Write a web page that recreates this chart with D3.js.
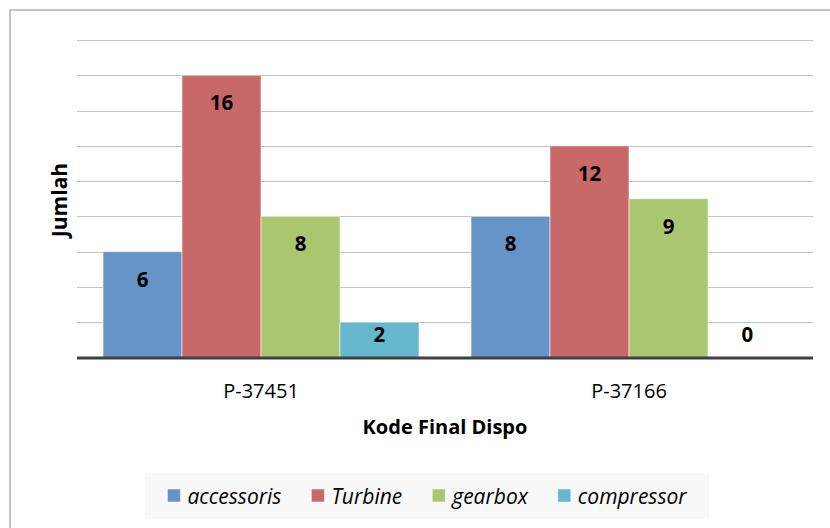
<!DOCTYPE html>
<html>
<head>
<meta charset="utf-8">
<script src="https://cdn.jsdelivr.net/npm/d3@7"></script>
<style>
  html, body { margin: 0; padding: 0; background: #fff; }
  svg { display: block; }
  text { font-family: "Open Sans", "Noto Sans", sans-serif; }
</style>
</head>
<body>
<svg id="chart" width="830" height="528"></svg>
<script>
// Jumlah per kode final dispo, per komponen
const categories = ["P-37451", "P-37166"];
const seriesNames = ["accessoris", "Turbine", "gearbox", "compressor"];
const accessoris = [6, 8];
const turbine = [16, 12];
const gearbox = [8, 9];
const compressor = [2, 0];
const seriesValues = [accessoris, turbine, gearbox, compressor];
const seriesColors = ["#6794C8", "#C96868", "#AAC66F", "#64B7CD"];
const yTicks = [2, 4, 6, 8, 10, 12, 14, 16, 18];

const svg = d3.select("#chart");

// outer chart frame (right and bottom edges run past the page)
svg.append("rect")
  .attr("x", 10).attr("y", 10)
  .attr("width", 900).attr("height", 600)
  .attr("fill", "#fff")
  .attr("stroke", "#C4C4C4").attr("stroke-width", 2);

const plot = { left: 77, right: 813, top: 40, bottom: 357.5 };

const y = d3.scaleLinear().domain([0, 18]).range([plot.bottom, plot.top]);
const x0 = d3.scaleBand().domain(categories).range([plot.left, plot.right]).padding(0);
const gap = x0.bandwidth() * 0.0707;
const x1 = d3.scaleBand().domain(seriesNames).range([gap, x0.bandwidth() - gap]).padding(0);

// horizontal gridlines
svg.append("g").selectAll("line")
  .data(yTicks)
  .join("line")
  .attr("x1", plot.left).attr("x2", plot.right)
  .attr("y1", d => Math.round(y(d)) + 0.5).attr("y2", d => Math.round(y(d)) + 0.5)
  .attr("stroke", "#C2C2C2").attr("stroke-width", 1);

// bars
const rows = [];
categories.forEach((c, ci) => {
  seriesNames.forEach((s, si) => {
    rows.push({ cat: c, series: s, value: seriesValues[si][ci], color: seriesColors[si] });
  });
});

svg.append("g").selectAll("rect")
  .data(rows.filter(d => d.value > 0))
  .join("rect")
  .attr("x", d => x0(d.cat) + x1(d.series))
  .attr("y", d => y(d.value))
  .attr("width", x1.bandwidth())
  .attr("height", d => y(0) - y(d.value))
  .attr("fill", d => d.color)
  .attr("stroke", "rgba(255,255,255,0.55)")
  .attr("stroke-width", 1);

// value labels, near the top inside each bar
svg.append("g").selectAll("text")
  .data(rows)
  .join("text")
  .attr("x", d => x0(d.cat) + x1(d.series) + x1.bandwidth() / 2)
  .attr("y", d => Math.min(y(d.value) + 27, y(0) - 24))
  .attr("text-anchor", "middle")
  .attr("dominant-baseline", "central")
  .attr("font-size", 20.5).attr("font-weight", "bold")
  .attr("fill", "#000")
  .text(d => d.value);

// category axis line
svg.append("line")
  .attr("x1", plot.left).attr("x2", plot.right)
  .attr("y1", y(0) + 0.5).attr("y2", y(0) + 0.5)
  .attr("stroke", "#404040").attr("stroke-width", 3);

// category labels
const xAxis = d3.axisBottom(x0).tickSize(0).tickPadding(0);
const gx = svg.append("g").attr("transform", `translate(0,${plot.bottom})`).call(xAxis);
gx.select(".domain").remove();
gx.selectAll("text")
  .attr("y", 40)
  .attr("dy", null)
  .attr("font-family", "'Open Sans', sans-serif")
  .attr("font-size", 20)
  .attr("fill", "#000");

// axis titles
svg.append("text")
  .attr("x", 445).attr("y", 434)
  .attr("text-anchor", "middle")
  .attr("font-size", 20).attr("font-weight", "bold")
  .text("Kode Final Dispo");

svg.append("text")
  .attr("transform", "translate(67,200) rotate(-90)")
  .attr("text-anchor", "middle")
  .attr("font-size", 21).attr("font-weight", "bold")
  .text("Jumlah");

// legend
const legendBox = { x: 145, y: 473, w: 564, h: 46 };
svg.append("rect")
  .attr("x", legendBox.x).attr("y", legendBox.y)
  .attr("width", legendBox.w).attr("height", legendBox.h)
  .attr("fill", "#F8F8F8");

const legend = svg.append("g");
const items = legend.selectAll("g")
  .data(seriesNames.map((s, i) => ({ name: s, color: seriesColors[i] })))
  .join("g");
items.append("rect")
  .attr("width", 13).attr("height", 13)
  .attr("fill", d => d.color)
  .attr("stroke", "rgba(255,255,255,0.5)").attr("stroke-width", 1);
items.append("text")
  .attr("x", 20).attr("y", 6.5)
  .attr("dominant-baseline", "central")
  .attr("font-size", 21).attr("font-style", "italic")
  .attr("fill", "#000")
  .text(d => d.name);

const itemWidths = [];
items.each(function () {
  itemWidths.push(20 + d3.select(this).select("text").node().getComputedTextLength());
});
const itemGap = 30;
const total = d3.sum(itemWidths) + itemGap * (itemWidths.length - 1);
let cx = legendBox.x + legendBox.w / 2 - total / 2;
items.each(function (d, i) {
  d3.select(this).attr("transform", `translate(${cx},489)`);
  cx += itemWidths[i] + itemGap;
});
</script>
</body>
</html>
